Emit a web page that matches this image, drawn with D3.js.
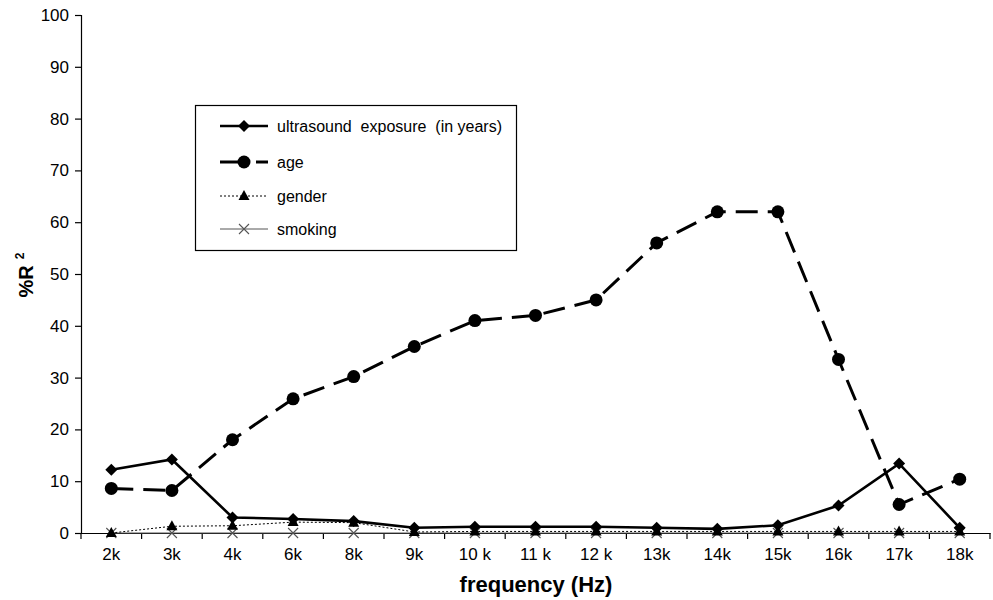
<!DOCTYPE html>
<html>
<head>
<meta charset="utf-8">
<script src="https://cdn.jsdelivr.net/npm/d3@7"></script>
<style>
body { margin: 0; background: #fff; }
text { font-family: "Liberation Sans", Arial, sans-serif; }
</style>
</head>
<body>
<script>
var width = 993
var height = 600

var freqs = ["2k", "3k", "4k", "6k", "8k", "9k", "10 k", "11 k", "12 k", "13k", "14k", "15k", "16k", "17k", "18k"]
var ultrasound = [12.2, 14.2, 3.0, 2.7, 2.3, 1.0, 1.2, 1.2, 1.2, 1.0, 0.8, 1.5, 5.3, 13.4, 1.0]
var age = [8.6, 8.2, 18.0, 25.9, 30.2, 36.0, 41.0, 42.0, 45.0, 56.0, 62.0, 62.0, 33.5, 5.5, 10.4]
var gender = [0, 1.3, 1.4, 2.1, 2.0, 0.2, 0.3, 0.3, 0.3, 0.3, 0.3, 0.3, 0.3, 0.3, 0.3]
var smoking = [0, 0, 0, 0, 0, 0, 0, 0, 0, 0, 0, 0, 0, 0, 0]
var yTicks = [0, 10, 20, 30, 40, 50, 60, 70, 80, 90, 100]

var plotLeft = 81
var plotRight = 990
var plotTop = 15
var plotBottom = 533

var x = d3.scaleBand().domain(freqs).range([plotLeft, plotRight])
var y = d3.scaleLinear().domain([0, 100]).range([plotBottom, plotTop])

var svg = d3.select("body")
    .append("svg")
    .attr("width", width)
    .attr("height", height)

// y axis
var yAxis = svg.append("g")
    .attr("transform", "translate(" + plotLeft + ",0)")
    .call(d3.axisLeft(y).tickValues(yTicks).tickSize(6).tickPadding(6))
yAxis.select(".domain").attr("stroke", "#000").attr("stroke-width", 1.2)
yAxis.selectAll(".tick line").attr("stroke", "#000").attr("stroke-width", 1.2)
yAxis.selectAll(".tick text")
    .style("font-size", "17px")
    .attr("fill", "#000")

// x axis with ticks on the band boundaries
var xAxis = svg.append("g")
    .attr("transform", "translate(0," + plotBottom + ")")
    .call(d3.axisBottom(x).tickSize(0).tickPadding(15))
xAxis.select(".domain").attr("stroke", "#000").attr("stroke-width", 1.2)
xAxis.selectAll(".tick text")
    .style("font-size", "17px")
    .attr("fill", "#000")
xAxis.selectAll("line.bound")
    .data(freqs.concat(["end"]))
    .enter()
    .append("line")
    .attr("class", "bound")
    .attr("x1", function(d, i) { return plotLeft + i * x.step(); })
    .attr("x2", function(d, i) { return plotLeft + i * x.step(); })
    .attr("y1", 0)
    .attr("y2", 6)
    .attr("stroke", "#000")
    .attr("stroke-width", 1.2)

// axis titles
svg.append("text")
    .attr("x", 536)
    .attr("y", 592)
    .attr("text-anchor", "middle")
    .style("font-size", "22px")
    .style("font-weight", "bold")
    .text("frequency (Hz)")

var yTitle = svg.append("text")
    .attr("transform", "translate(33,275) rotate(-90)")
    .attr("text-anchor", "middle")
    .style("font-size", "20px")
    .style("font-weight", "bold")
yTitle.append("tspan").text("%R")
yTitle.append("tspan").attr("dx", 6).attr("dy", -9).style("font-size", "12px").text("2")

var cx = function(d, i) { return x(freqs[i]) + x.bandwidth() / 2; }

var series = [
    { name: "smoking", values: smoking, color: "#555", width: 1, dash: null, marker: "cross" },
    { name: "gender", values: gender, color: "#000", width: 1, dash: "2,2", marker: "triangle" },
    { name: "age", values: age, color: "#000", width: 3, dash: "22,10", marker: "circle" },
    { name: "ultrasound  exposure  (in years)", values: ultrasound, color: "#000", width: 2.6, dash: null, marker: "diamond" }
]

function drawMarker(g, type, color) {
    if (type == "circle") {
        g.append("circle").attr("r", 6.5).attr("fill", color)
    } else if (type == "diamond") {
        g.append("path").attr("d", "M0,-6L6,0L0,6L-6,0Z").attr("fill", color)
    } else if (type == "triangle") {
        g.append("path").attr("d", "M0,-6L5.5,4L-5.5,4Z").attr("fill", color)
    } else if (type == "cross") {
        g.append("path").attr("d", "M-5,-5L5,5M-5,5L5,-5").attr("stroke", color).attr("stroke-width", 1.1).attr("fill", "none")
    }
}

var line = d3.line()
    .x(cx)
    .y(function(d) { return y(d); })

series.forEach(function(s) {
    svg.append("path")
        .datum(s.values)
        .attr("d", line)
        .attr("fill", "none")
        .attr("stroke", s.color)
        .attr("stroke-width", s.width)
        .attr("stroke-dasharray", s.dash)
    svg.append("g").selectAll("g")
        .data(s.values)
        .enter()
        .append("g")
        .attr("transform", function(d, i) { return "translate(" + cx(d, i) + "," + y(d) + ")"; })
        .each(function() { drawMarker(d3.select(this), s.marker, s.color); })
})

// legend
var legend = svg.append("g")
legend.append("rect")
    .attr("x", 195.5)
    .attr("y", 105.5)
    .attr("width", 321)
    .attr("height", 145)
    .attr("fill", "#fff")
    .attr("stroke", "#000")
    .attr("stroke-width", 1.2)

var legendRows = series.slice().reverse()
var legendY = [126, 162, 196, 229]
legendRows.forEach(function(s, i) {
    var row = legend.append("g").attr("transform", "translate(0," + legendY[i] + ")")
    if (s.marker == "circle") {
        row.append("line").attr("x1", 220).attr("x2", 246).attr("stroke", s.color).attr("stroke-width", s.width)
        row.append("line").attr("x1", 256).attr("x2", 268).attr("stroke", s.color).attr("stroke-width", s.width)
    } else {
        row.append("line")
            .attr("x1", 220).attr("x2", 268)
            .attr("stroke", s.color)
            .attr("stroke-width", s.width)
            .attr("stroke-dasharray", s.dash)
    }
    var m = row.append("g").attr("transform", "translate(244,0)")
    drawMarker(m, s.marker, s.color)
    row.append("text")
        .attr("x", 277)
        .attr("y", 6)
        .style("font-size", "16px")
        .style("white-space", "pre")
        .attr("fill", "#000")
        .text(s.name)
})
</script>
</body>
</html>
